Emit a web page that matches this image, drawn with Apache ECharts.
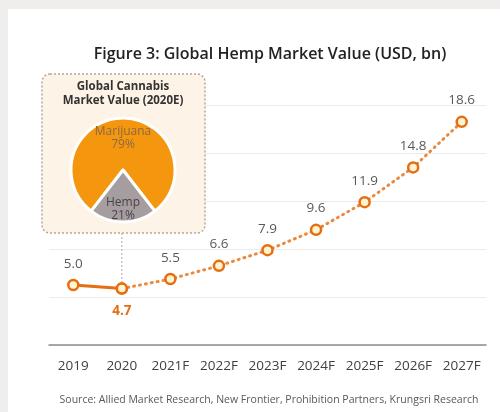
<!DOCTYPE html>
<html><head><meta charset="utf-8">
<script src="https://cdn.jsdelivr.net/npm/echarts@6/dist/echarts.min.js"></script>
<style>
html,body{margin:0;padding:0;background:#efeeec;}
#panel{position:absolute;left:8px;top:9px;width:492px;height:403px;background:#fff;}
#chart{position:absolute;left:0;top:0;width:500px;height:412px;}
</style></head>
<body><div id="panel"></div><div id="chart"></div>
<script>
const categories = ['2019','2020','2021F','2022F','2023F','2024F','2025F','2026F','2027F'];
const hempValues = [5.0, 4.7, 5.5, 6.6, 7.9, 9.6, 11.9, 14.8, 18.6];
const actualCount = 2; // 2019, 2020 are actual; rest forecast
const pieNames = ['Marijuana', 'Hemp'];
const pieShares = [79, 21];
const yTicks = [0, 4, 8, 12, 16, 20];

const solidData = hempValues.map((v, i) => i < actualCount ? v : '-');
const dottedData = hempValues.map((v, i) => i >= actualCount - 1 ? v : '-');

const orange = '#e56d12';
const chart = echarts.init(document.getElementById('chart'));
const markerStyle = { color: '#fff4cf', borderColor: orange, borderWidth: 2.5 };
const font = 'Open Sans';

chart.setOption({
  animation: false,
  grid: { left: 49, right: 14, top: 105, bottom: 67 },
  xAxis: {
    type: 'category', data: categories, boundaryGap: true,
    axisTick: { show: false },
    axisLine: { lineStyle: { color: '#8c8c8c', width: 1.5 } },
    axisLabel: { color: '#404040', fontSize: 13.5, fontFamily: font, margin: 14, interval: 0 }
  },
  yAxis: {
    type: 'value', min: yTicks[0], max: yTicks[yTicks.length - 1], interval: yTicks[1] - yTicks[0],
    axisLabel: { show: false }, axisLine: { show: false }, axisTick: { show: false },
    splitLine: { lineStyle: { color: '#ebebeb', width: 1 } }
  },
  series: [
    {
      type: 'line', data: dottedData, z: 3,
      symbol: 'circle', symbolSize: 10, itemStyle: markerStyle,
      lineStyle: { color: '#ea8a40', width: 3, type: [1, 5], cap: 'round' },
      label: {
        show: true, position: 'top', distance: 8, color: '#595959', fontSize: 13.5, fontFamily: font,
        formatter: p => p.dataIndex === 1 ? '' : p.value.toFixed(1)
      }
    },
    {
      type: 'line', z: 4,
      symbol: 'circle', symbolSize: 10, itemStyle: markerStyle,
      lineStyle: { color: orange, width: 3 },
      label: {
        show: true, fontSize: 13.5, fontFamily: font,
        formatter: p => p.value.toFixed(1)
      },
      data: solidData.map((v, i) => v === '-' ? v : {
        value: v,
        label: i === actualCount - 1
          ? { position: 'bottom', distance: 9, color: orange, fontWeight: 'bold' }
          : { position: 'top', distance: 8, color: '#595959' }
      })
    },
    {
      type: 'pie', z: 5, center: [123, 170], radius: 52, startAngle: 232.2,
      clockwise: true, silent: true,
      itemStyle: { borderColor: '#fff', borderWidth: 3 },
      label: { position: 'inside', fontSize: 12, fontFamily: font, lineHeight: 13,
        formatter: p => p.name + '\n' + p.value + '%' },
      data: [
        { name: pieNames[0], value: pieShares[0], itemStyle: { color: '#f5960f' }, label: { color: '#8a6a45', offset: [0, -3] } },
        { name: pieNames[1], value: pieShares[1], itemStyle: { color: '#a69da0' }, label: { color: '#4a4446', offset: [0, 10] } }
      ]
    }
  ]
});

// dashed connector from inset box to the 2020 point
const p2020 = chart.convertToPixel({ seriesIndex: 1 }, [1, hempValues[1]]);
chart.setOption({ graphic: [
  { type: 'text', z: 2, x: 270, y: 46,
    style: { text: 'Figure 3: Global Hemp Market Value (USD, bn)', textAlign: 'center', fill: '#222',
      font: '600 16px "Open Sans"' } },
  { type: 'rect', z: 1, shape: { x: 42, y: 74, width: 163, height: 159, r: 8 },
    style: { fill: '#fdf3e6', stroke: '#b8a892', lineWidth: 1.5, lineDash: [2, 2] } },
  { type: 'text', z: 2, x: 123, y: 80,
    style: { text: 'Global Cannabis\nMarket Value (2020E)', textAlign: 'center', fill: '#333',
      font: 'bold 11.5px "Open Sans"', lineHeight: 14 } },
  { type: 'text', z: 2, x: 269, y: 395,
    style: { text: 'Source: Allied Market Research, New Frontier, Prohibition Partners, Krungsri Research',
      textAlign: 'center', fill: '#595959', font: '10.5px "Open Sans"' } },
  { type: 'line', z: 2, shape: { x1: p2020[0], y1: 233, x2: p2020[0], y2: p2020[1] - 5 },
    style: { stroke: '#b8a892', lineWidth: 1, lineDash: [2, 2] } }
]});
</script></body></html>
